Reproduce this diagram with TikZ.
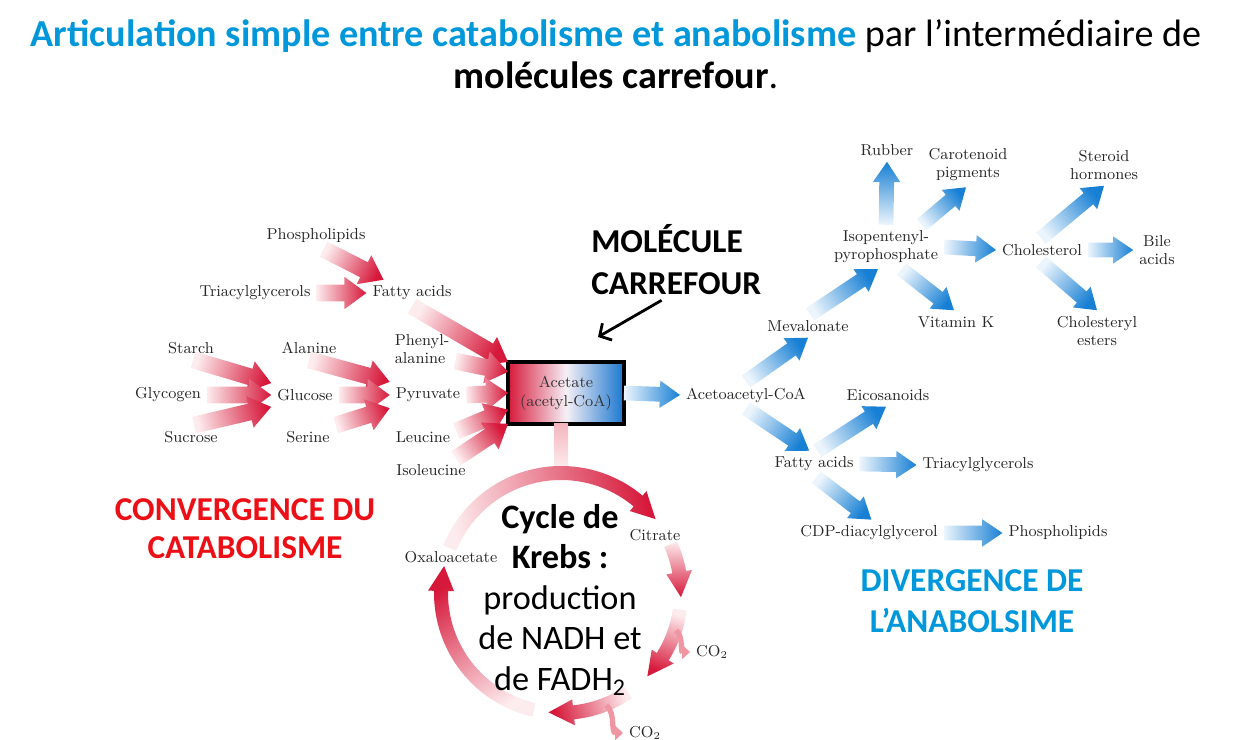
\documentclass[tikz,border=0pt]{standalone}
\usepackage{fontspec}
\newfontfamily\calib{Carlito}
\usetikzlibrary{calc,arrows.meta}

\definecolor{catdark}{RGB}{214,24,58}
\definecolor{catlight}{RGB}{253,236,238}
\definecolor{catpink}{RGB}{240,150,162}
\definecolor{stempink}{RGB}{244,182,190}
\definecolor{anadark}{RGB}{24,128,212}
\definecolor{analight}{RGB}{236,245,252}
\definecolor{titleblue}{RGB}{0,152,218}
\definecolor{convred}{RGB}{236,16,22}
\definecolor{boxred}{RGB}{214,24,58}
\definecolor{boxmid}{RGB}{246,240,246}
\definecolor{boxblue}{RGB}{24,118,206}

\tikzset{
  lbl/.style={font=\fontsize{9}{10.2}\selectfont, text=black!85, inner sep=1.5pt, outer sep=2pt, align=center},
  bigtxt/.style={font=\calib\fontsize{19}{22.7}\selectfont, inner sep=0pt, align=center},
  catarr/.style={top color=catdark, bottom color=catlight, /utils/exec={\def\fasw{4.8}\def\fahw{9.2}\def\fahl{12.5}}},
  anaarr/.style={top color=anadark, bottom color=analight, /utils/exec={\def\fasw{4.2}\def\fahw{7.8}\def\fahl{11.5}}},
  krebsarr/.style={top color=catdark, bottom color=catlight},
  acbox/.style={draw=black, line width=2.3pt, minimum width=2.32cm, minimum height=1.24cm, left color=boxred, right color=boxblue, middle color=boxmid, align=center, text=black!80, font=\fontsize{9}{10.8}\selectfont, outer sep=0pt},
  mcarr/.style={-{Straight Barb[length=5pt,width=11pt]}, line width=1.6pt},
  co2arr/.style={draw=catpink, line width=3pt, -{Triangle[length=4.5pt,width=8pt]}}
}

% fat shaded arrow between two points
\newcommand{\fatarr}[3]{%
  \path let \p1=(#2), \p2=(#3) in \pgfextra{\pgfmathparse{atan2(\y2-\y1,\x2-\x1)}\xdef\farang{\pgfmathresult}};
  \shade[#1, shading angle=\farang-90] let \p1=(#2), \p2=(#3), \n2={veclen(\x2-\x1,\y2-\y1)} in
    ($(\p1)+(\farang+90:\fasw pt)$) -- ++(\farang:\n2-\fahl pt) -- ++(\farang+90:\fahw pt-\fasw pt)
    -- (\p2) -- ($(\p2)+(\farang+180:\fahl pt)+(\farang-90:\fahw pt)$) -- ++(\farang+90:\fahw pt-\fasw pt)
    -- ($(\p1)+(\farang-90:\fasw pt)$) -- cycle;
}

% curved piece of the Krebs ring
\newcommand{\cycarr}[3]{%
  \shade[krebsarr, shading angle=#3] ($(kc)+(#1:127)$) arc[start angle=#1, end angle=#2, radius=127]
    -- ($(kc)+(#2:133)$) -- ($(kc)+(#2-12:120)$) -- ($(kc)+(#2:107)$) -- ($(kc)+(#2:113)$)
    arc[start angle=#2, end angle=#1, radius=113] -- cycle;
}

\begin{document}
\begin{tikzpicture}[x=0.02cm, y=0.02cm]
\useasboundingbox (0,0) rectangle (1234,740);
\clip (0,0) rectangle (1234,740);

% title
\node[font=\calib\fontsize{21.7}{23.8}\selectfont, align=center] (title) at (616,686)
  {{\color{titleblue}\bfseries Articulation simple entre catabolisme et anabolisme} par l’intermédiaire de\\
   \textbf{molécules carrefour}.};

% catabolism side
\node[lbl] (phos) at (316,504) {Phospholipids};
\node[lbl] (tag) at (255,447) {Triacylglycerols};
\node[lbl] (fa) at (412,447) {Fatty acids};
\node[lbl] (starch) at (191,392) {Starch};
\node[lbl] (alanine) at (309,392) {Alanine};
\node[lbl, align=left] (phen) at (422,391) {Phenyl-\\alanine};
\node[lbl] (glycogen) at (168,345) {Glycogen};
\node[lbl] (glucose) at (305,345) {Glucose};
\node[lbl] (pyr) at (428,345) {Pyruvate};
\node[lbl] (sucrose) at (191,303) {Sucrose};
\node[lbl] (serine) at (308,303) {Serine};
\node[lbl] (leu) at (423,303) {Leucine};
\node[lbl] (iso) at (431,270) {Isoleucine};

% crossroad molecule
\node[acbox] (acetate) at (566,347) {Acetate\\(acetyl-CoA)};
\node[bigtxt, font=\calib\bfseries\fontsize{19}{23.8}\selectfont, align=left, anchor=west, outer sep=3pt] (mol) at (586,480) {MOLÉCULE\\CARREFOUR};
\coordinate (mchead) at (598,403);
\draw[mcarr] (mol.-110) -- (mchead);

\fatarr{catarr}{phos.-60}{fa.155}
\fatarr{catarr}{tag.east}{fa.west}
\fatarr{catarr}{fa.south}{acetate.north west}
\fatarr{catarr}{starch.-80}{glucose.north west}
\fatarr{catarr}{glycogen.east}{glucose.west}
\fatarr{catarr}{sucrose.75}{glucose.south west}
\fatarr{catarr}{alanine.south}{pyr.north west}
\fatarr{catarr}{glucose.east}{pyr.west}
\fatarr{catarr}{serine.north east}{pyr.south west}
\fatarr{catarr}{phen.-20}{acetate.160}
\fatarr{catarr}{pyr.east}{acetate.west}
\fatarr{catarr}{leu.10}{acetate.196}
\fatarr{catarr}{iso.25}{acetate.208}

% Krebs cycle
\coordinate (kc) at (561,147);
\shade[top color=stempink, bottom color=catlight] ($(acetate.south)+(-12,0)$) rectangle ($(kc)+(7,125)$);
\cycarr{158}{50}{-81}
\cycarr{24}{10}{-180}
\cycarr{-8}{-32}{-200}
\cycarr{-56}{-84}{107}
\cycarr{-103}{-181}{31}

\node[lbl] (citrate) at (655,205) {Citrate};
\node[lbl] (oxalo) at (451,183) {Oxaloacetate};
\node[lbl] (co2a) at (712,88) {CO$_2$};
\node[lbl] (co2b) at (645,7) {CO$_2$};
\coordinate (co2s1) at ($(kc)+(-18:121)$);
\coordinate (co2s2) at ($(kc)+(-68:121)$);
\draw[co2arr] (co2s1) to[out=-40, in=180] (co2a.west);
\draw[co2arr] (co2s2) to[out=-40, in=180] (co2b.west);

\node[bigtxt, font=\calib\fontsize{19.5}{23.1}\selectfont] (krebs) at (560,140) {\textbf{Cycle de}\\\textbf{Krebs :}\\production\\de NADH et\\de FADH\textsubscript{2}};

% anabolism side
\node[lbl] (acac) at (746,345) {Acetoacetyl-CoA};
\node[lbl] (mev) at (808,414) {Mevalonate};
\node[lbl] (ipp) at (886,493) {Isopentenyl-\\pyrophosphate};
\node[lbl] (rubber) at (887,590) {Rubber};
\node[lbl] (carot) at (968,575) {Carotenoid\\pigments};
\node[lbl] (vitk) at (956,418) {Vitamin K};
\node[lbl] (chol) at (1042,490) {Cholesterol};
\node[lbl] (ster) at (1104,575) {Steroid\\hormones};
\node[lbl] (bile) at (1157,490) {Bile\\acids};
\node[lbl] (chest) at (1097,409) {Cholesteryl\\esters};
\node[lbl] (eico) at (888,345) {Eicosanoids};
\node[lbl] (fa2) at (814,276) {Fatty acids};
\node[lbl] (tag2) at (978,275) {Triacylglycerols};
\node[lbl] (cdp) at (869,207) {CDP-diacylglycerol};
\node[lbl] (pl2) at (1058,207) {Phospholipids};

\fatarr{anaarr}{acetate.east}{acac.west}
\fatarr{anaarr}{acac.north}{mev.south}
\fatarr{anaarr}{mev.80}{ipp.-110}
\fatarr{anaarr}{ipp.north}{rubber.south}
\fatarr{anaarr}{ipp.32}{carot.-95}
\fatarr{anaarr}{ipp.east}{chol.west}
\fatarr{anaarr}{ipp.-55}{vitk.100}
\fatarr{anaarr}{chol.95}{ster.south}
\fatarr{anaarr}{chol.east}{bile.west}
\fatarr{anaarr}{chol.-95}{chest.north}
\fatarr{anaarr}{acac.south}{fa2.110}
\fatarr{anaarr}{fa2.75}{eico.-100}
\fatarr{anaarr}{fa2.east}{tag2.west}
\fatarr{anaarr}{fa2.-80}{cdp.80}
\fatarr{anaarr}{cdp.east}{pl2.west}

% side captions
\node[bigtxt, font=\calib\bfseries\fontsize{19}{21.5}\selectfont, text=convred] (conv) at (245,211) {CONVERGENCE DU\\CATABOLISME};
\node[bigtxt, font=\calib\bfseries\fontsize{19}{23}\selectfont, text=titleblue] (div) at (972,139) {DIVERGENCE DE\\L’ANABOLSIME};

\end{tikzpicture}
\end{document}
